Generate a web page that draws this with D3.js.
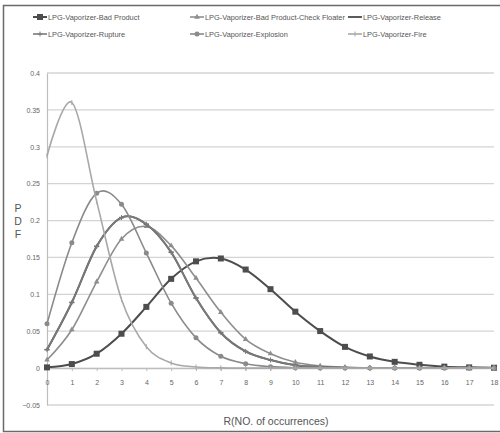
<!DOCTYPE html>
<html>
<head>
<meta charset="utf-8">
<script src="https://cdn.jsdelivr.net/npm/d3@7"></script>
<style>
	body { margin: 0; background: #fff; }
	svg { display: block; font-family: 'Liberation Sans', Arial, sans-serif; }
</style>
</head>
<body>
<svg id="chart" width="500" height="433"></svg>
<script>
const R = d3.range(0, 19);

const badProduct = [0.001, 0.0055, 0.0195, 0.0466, 0.083, 0.121, 0.1447, 0.1486, 0.1336, 0.107, 0.0765, 0.0502, 0.0288, 0.0158, 0.0085, 0.0045, 0.002, 0.001, 0.0005];
const checkFloater = [0.011, 0.052, 0.117, 0.175, 0.192, 0.166, 0.122, 0.0756, 0.039, 0.0195, 0.008, 0.003, 0.001, 0.0004, 0, 0, 0, 0, 0];
const release = [0.025, 0.089, 0.165, 0.204, 0.195, 0.157, 0.095, 0.048, 0.0226, 0.011, 0.004, 0.0015, 0.0005, 0.0002, 0, 0, 0, 0, 0];
const rupture = [0.025, 0.089, 0.165, 0.204, 0.195, 0.157, 0.095, 0.048, 0.0226, 0.011, 0.004, 0.0015, 0.0005, 0.0002, 0, 0, 0, 0, 0];
const explosion = [0.06, 0.17, 0.237, 0.222, 0.156, 0.088, 0.041, 0.016, 0.006, 0.002, 0.0005, 0.0001, 0, 0, 0, 0, 0, 0, 0];
const fire = [0.2876, 0.36, 0.226, 0.093, 0.029, 0.007, 0.0015, 0.0003, 0, 0, 0, 0, 0, 0, 0, 0, 0, 0, 0];

const yTicks = [-0.05, 0, 0.05, 0.1, 0.15, 0.2, 0.25, 0.3, 0.35, 0.4];

const series = [
	{ name: 'LPG-Vaporizer-Bad Product', values: badProduct, color: '#4d4d4d', marker: 'square', width: 2 },
	{ name: 'LPG-Vaporizer-Bad Product-Check Floater', values: checkFloater, color: '#8e8e8e', marker: 'triangle', width: 1.6 },
	{ name: 'LPG-Vaporizer-Release', values: release, color: '#5c5c5c', marker: 'dash', width: 2 },
	{ name: 'LPG-Vaporizer-Rupture', values: rupture, color: '#7a7a7a', marker: 'star', width: 1.6 },
	{ name: 'LPG-Vaporizer-Explosion', values: explosion, color: '#8a8a8a', marker: 'circle', width: 1.6 },
	{ name: 'LPG-Vaporizer-Fire', values: fire, color: '#a8a8a8', marker: 'plus', width: 1.6 }
];

const svg = d3.select('#chart');

// outer frame
svg.append('rect')
	.attr('x', 3.5).attr('y', 5.5)
	.attr('width', 520).attr('height', 426)
	.attr('fill', 'none')
	.attr('stroke', '#6a6a6a')
	.attr('stroke-width', 1.5);

const x = d3.scaleLinear().domain([0, 18]).range([47, 494]);
const y = d3.scaleLinear().domain([-0.05, 0.4]).range([405, 73]);

// gridlines
svg.append('g')
	.selectAll('line')
	.data(yTicks)
	.join('line')
	.attr('x1', x(0)).attr('x2', x(18))
	.attr('y1', d => y(d)).attr('y2', d => y(d))
	.attr('stroke', '#d4d4d4')
	.attr('stroke-width', 1.3);

// y axis
const yAxis = svg.append('g')
	.attr('transform', `translate(${x(0)},0)`)
	.call(d3.axisLeft(y).tickValues(yTicks).tickSize(0).tickPadding(7).tickFormat(d => d3.format('~g')(d)));
yAxis.select('.domain').attr('stroke', '#bdbdbd').attr('stroke-width', 1.2);
yAxis.selectAll('text').attr('fill', '#666').attr('font-size', 7);

// x axis on the zero line
const xAxis = svg.append('g')
	.attr('transform', `translate(0,${y(0)})`)
	.call(d3.axisBottom(x).tickValues(R).tickSize(3).tickPadding(9).tickFormat(d3.format('d')));
xAxis.select('.domain').attr('stroke', '#bdbdbd').attr('stroke-width', 1.2);
xAxis.selectAll('line').attr('stroke', '#bdbdbd');
xAxis.selectAll('text').attr('fill', '#666').attr('font-size', 7);

// axis titles
svg.append('text')
	.attr('x', 276).attr('y', 425)
	.attr('text-anchor', 'middle')
	.attr('font-size', 10.5)
	.attr('fill', '#555')
	.text('R(NO. of occurrences)');

svg.append('g')
	.selectAll('text')
	.data(['P', 'D', 'F'])
	.join('text')
	.attr('x', 18).attr('y', (d, i) => 212 + i * 13)
	.attr('text-anchor', 'middle')
	.attr('font-size', 10.5)
	.attr('fill', '#555')
	.text(d => d);

function drawMarker(g, type, color, size) {
	const s = size;
	if (type === 'square') {
		g.append('rect').attr('x', -s / 2).attr('y', -s / 2).attr('width', s).attr('height', s).attr('fill', color);
	} else if (type === 'circle') {
		g.append('circle').attr('r', s / 2).attr('fill', color);
	} else if (type === 'triangle') {
		g.append('path').attr('d', d3.symbol(d3.symbolTriangle, s * s * 0.55)()).attr('fill', color);
	} else if (type === 'dash') {
		g.append('line').attr('x1', -s / 2).attr('x2', s / 2).attr('stroke', color).attr('stroke-width', 1.6);
	} else if (type === 'star') {
		g.append('path').attr('d', `M${-s / 2},0H${s / 2}M0,${-s / 2}V${s / 2}`).attr('stroke', color).attr('stroke-width', 1);
	} else if (type === 'plus') {
		g.append('path').attr('d', `M0,${-s / 2}V${s / 2}`).attr('stroke', color).attr('stroke-width', 1);
	}
}

const line = d3.line()
	.x((d, i) => x(R[i]))
	.y(d => y(d))
	.curve(d3.curveCardinal.tension(0));

const $series = svg.append('g')
	.selectAll('g')
	.data(series)
	.join('g');

$series.append('path')
	.attr('d', d => line(d.values))
	.attr('fill', 'none')
	.attr('stroke', d => d.color)
	.attr('stroke-width', d => d.width);

$series.each(function (s) {
	const g = d3.select(this);
	s.values.forEach((v, i) => {
		const m = g.append('g').attr('transform', `translate(${x(R[i])},${y(v)})`);
		drawMarker(m, s.marker, s.color, s.marker === 'square' ? 6 : 5);
	});
});

// legend
const legendPos = [[33, 17], [190, 17], [348, 17], [33, 34], [190, 34], [348, 34]];
const $legend = svg.append('g')
	.selectAll('g')
	.data(series)
	.join('g')
	.attr('transform', (d, i) => `translate(${legendPos[i][0]},${legendPos[i][1]})`);

$legend.append('line')
	.attr('x1', 0).attr('x2', 14)
	.attr('stroke', d => d.color)
	.attr('stroke-width', d => d.width);

$legend.each(function (s) {
	const m = d3.select(this).append('g').attr('transform', 'translate(7,0)');
	drawMarker(m, s.marker, s.color, s.marker === 'square' ? 6 : 5);
});

$legend.append('text')
	.attr('x', 15).attr('y', 3)
	.attr('font-size', 7.4)
	.attr('fill', '#555')
	.text(d => d.name);
</script>
</body>
</html>
